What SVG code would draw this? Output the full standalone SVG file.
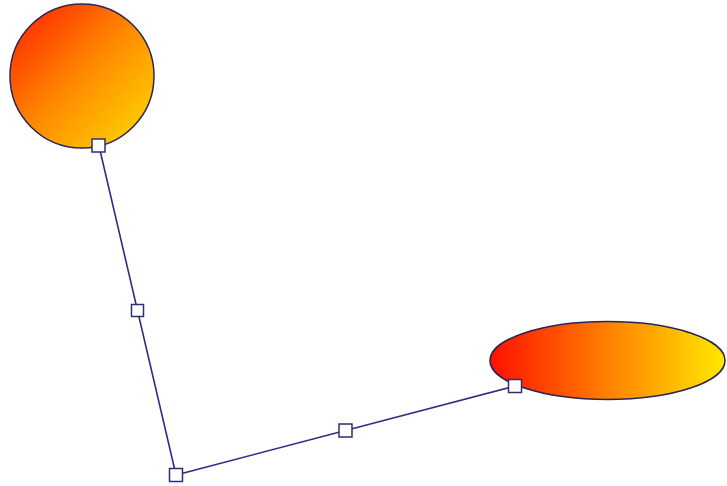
<svg xmlns="http://www.w3.org/2000/svg" width="727" height="486" viewBox="0 0 727 486">
<defs>
<linearGradient id="gc" x1="0" y1="0" x2="1" y2="1">
<stop offset="0" stop-color="#ff1a00"/>
<stop offset="0.5" stop-color="#ff8a00"/>
<stop offset="1" stop-color="#ffe000"/>
</linearGradient>
<linearGradient id="ge" x1="0" y1="0" x2="1" y2="0">
<stop offset="0" stop-color="#ff1000"/>
<stop offset="0.5" stop-color="#ff8000"/>
<stop offset="1" stop-color="#ffe800"/>
</linearGradient>
</defs>
<style>
.node{stroke:#2b2450;stroke-width:1.5}
.conn{fill:none;stroke:#2e2e80;stroke-width:1.6}
.h{fill:#ffffff;stroke:#2e2e70;stroke-width:1.5}
</style>
<rect width="727" height="486" fill="#ffffff"/>
<g id="circle-node">
<circle class="node" cx="82" cy="76" r="72" fill="url(#gc)"/>
</g>
<g id="ellipse-node">
<ellipse class="node" cx="607.5" cy="360.5" rx="117.5" ry="39" fill="url(#ge)"/>
</g>
<g id="connectors">
<polyline class="conn" points="99,146 176,475 515,386"/>
<rect class="h" x="92" y="139" width="13" height="13"/>
<rect class="h" x="131.5" y="304.5" width="12" height="12"/>
<rect class="h" x="169.5" y="468.5" width="13" height="13"/>
<rect class="h" x="339" y="424" width="13" height="13"/>
<rect class="h" x="508.5" y="379.5" width="13" height="13"/>
</g>
</svg>
